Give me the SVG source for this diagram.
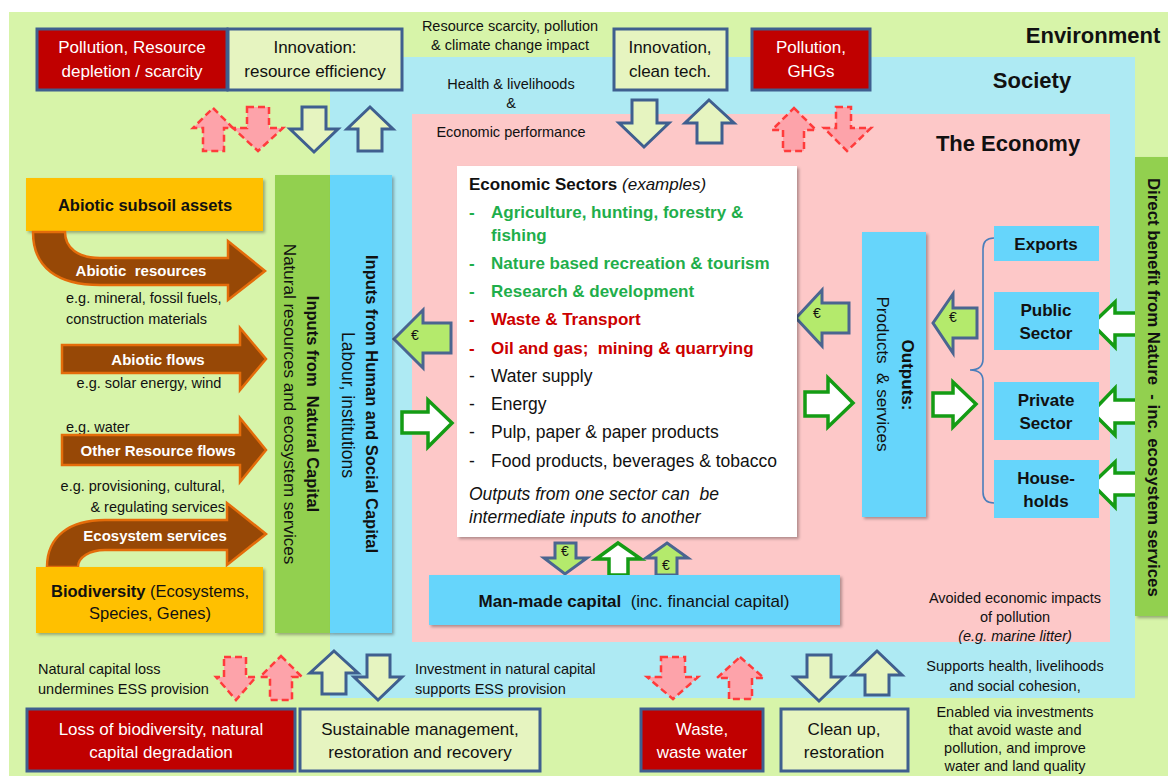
<svg xmlns="http://www.w3.org/2000/svg" width="1168" height="776" viewBox="0 0 1168 776">
<defs>
<style>
text{font-family:"Liberation Sans",Arial,sans-serif;dominant-baseline:central;fill:#111}
.c{text-anchor:middle}
.b{font-weight:bold}
.i{font-style:italic}
.s{font-size:14.5px}
.m{font-size:17px}
.n{font-size:17.5px}
.L{font-size:22px;font-weight:bold}
.w{fill:#fff}
.g{fill:#1fae4b}
.r{fill:#cc0000}
.boxr{fill:#c00000;stroke:#3f5f8f;stroke-width:3}
.boxp{fill:#e6f4c0;stroke:#3f5f8f;stroke-width:3}
.ao{fill:#e6f4c0;stroke:#3f5f8f;stroke-width:3;stroke-linejoin:miter}
.ar{fill:#fda3aa;stroke:#ff3b3b;stroke-width:2.5;stroke-dasharray:7 4}
.ae{fill:#b4ea6c;stroke:#4a6590;stroke-width:3}
.aw{fill:#fff;stroke:#149c14;stroke-width:3.5}
.br{fill:#974806;stroke:#e46c0a;stroke-width:2.5}
.or{fill:#ffc000}
.bl{fill:#66d5fb}
.gr{fill:#92d050}
.eu{font-size:14px}
</style>
<filter id="sh" x="-10%" y="-10%" width="130%" height="130%">
<feDropShadow dx="2" dy="2" stdDeviation="1.5" flood-color="#000" flood-opacity="0.3"/>
</filter>
</defs>

<g id="environment">
<rect x="9" y="12" width="1159" height="764" fill="#d7f4a9"/>
<text x="1093" y="35" class="c L">Environment</text>
</g>
<g id="society">
<rect x="330" y="57" width="805" height="641" fill="#aeeaf3"/>
<text x="1032" y="80" class="c L">Society</text>
</g>
<g id="economy">
<rect x="412" y="114" width="698" height="528" fill="#fdc8c8"/>
<text x="1008" y="143" class="c L">The Economy</text>
</g>

<g id="top-texts">
<text x="510" y="26" class="c s">Resource scarcity, pollution</text>
<text x="510" y="45" class="c s">&amp; climate change impact</text>
<text x="511" y="84" class="c s">Health &amp; livelihoods</text>
<text x="511" y="103" class="c s">&amp;</text>
<text x="511" y="132" class="c s">Economic performance</text>
</g>

<g id="box-pollution-resource">
<rect x="37" y="29" width="190" height="61" class="boxr"/>
<text x="132" y="47" class="c m w">Pollution, Resource</text>
<text x="132" y="71" class="c m w">depletion / scarcity</text>
</g>
<g id="box-innovation-efficiency">
<rect x="228" y="29" width="174" height="61" class="boxp"/>
<text x="315" y="47" class="c m">Innovation:</text>
<text x="315" y="71" class="c m">resource efficiency</text>
</g>
<g id="box-innovation-clean">
<rect x="614" y="29" width="113" height="61" class="boxp"/>
<text x="670" y="47" class="c m">Innovation,</text>
<text x="670" y="71" class="c m">clean tech.</text>
</g>
<g id="box-pollution-ghg">
<rect x="752" y="29" width="118" height="61" class="boxr"/>
<text x="811" y="47" class="c m w">Pollution,</text>
<text x="811" y="71" class="c m w">GHGs</text>
</g>

<g id="connectors">
<!-- top left -->
<polygon class="ar" points="213,108 233,128 224,128 224,151 203,151 203,128 193,128"/>
<polygon class="ar" points="247,107 269,107 269,128 283,128 258,151 233,128 247,128"/>
<polygon class="ao" points="302,107 326,107 326,129 338,129 314,152 290,129 302,129"/>
<polygon class="ao" points="370,107 393,129 382,129 382,151 358,151 358,129 347,129"/>
<!-- top right -->
<polygon class="ao" points="632,100 657,100 657,123 669,123 644,147 619,123 632,123"/>
<polygon class="ao" points="709,100 734,123 722,123 722,143 697,143 697,123 685,123"/>
<polygon class="ar" points="794,108 816,130 804,130 804,151 783,151 783,130 772,130"/>
<polygon class="ar" points="836,107 851,107 851,128 871,128 847,151 824,128 836,128"/>
<!-- bottom left -->
<polygon class="ar" points="224,657 246,657 246,677 256,677 236,700 216,677 224,677"/>
<polygon class="ar" points="281,656 302,677 292,677 292,700 270,700 270,677 260,677"/>
<polygon class="ao" points="334,651 358,673 346,673 346,694 322,694 322,673 310,673"/>
<polygon class="ao" points="367,655 390,655 390,677 402,677 378,700 354,677 367,677"/>
<!-- bottom right -->
<polygon class="ar" points="661,657 685,657 685,677 698,677 673,699 647,677 661,677"/>
<polygon class="ar" points="740,657 764,678 752,678 752,699 729,699 729,678 717,678"/>
<polygon class="ao" points="807,655 831,655 831,677 844,677 819,701 794,677 807,677"/>
<polygon class="ao" points="877,651 902,675 889,675 889,695 865,695 865,675 852,675"/>
<!-- around economic sectors -->
<polygon class="ae" points="394,339 423,310 423,323 451,323 451,353 423,353 423,368"/>
<text x="415" y="335" class="c eu">€</text>
<polygon class="aw" points="402,412 428,412 428,400 452,423 428,447 428,433 402,433"/>
<polygon class="ae" points="796,318 822,290 822,303 849,303 849,333 822,333 822,346"/>
<text x="817" y="313" class="c eu">€</text>
<polygon class="aw" points="805,392 828,392 828,378 853,403 828,427 828,416 805,416"/>
<polygon class="ae" points="933,323 953,294 953,308 977,308 977,338 953,338 953,353"/>
<text x="953" y="317" class="c eu">€</text>
<polygon class="aw" points="933,393 953,393 953,382 976,404 953,427 953,416 933,416"/>
<!-- benefits from nature -->
<polygon class="aw" points="1092,324 1115,302 1115,313 1138,313 1138,335 1115,335 1115,347"/>
<polygon class="aw" points="1092,412 1115,388 1115,400 1138,400 1138,423 1115,423 1115,435"/>
<polygon class="aw" points="1092,484 1115,462 1115,473 1138,473 1138,495 1115,495 1115,507"/>
<!-- man-made capital arrows -->
<polygon class="ae" points="555,543 576,543 576,558 587,558 565,574 544,558 555,558"/>
<text x="565" y="551" class="c eu">€</text>
<polygon class="aw" points="618,543 641,559 628,559 628,575 609,575 609,559 596,559"/>
<polygon class="ae" points="667,543 688,558 677,558 677,575 656,575 656,558 646,558"/>
<text x="666" y="565" class="c eu">€</text>
<!-- brace -->
<path d="M994,238 Q983,238 983,249 L983,359 Q983,370 970,370 Q983,370 983,381 L983,492 Q983,503 994,503" fill="none" stroke="#4a7ebb" stroke-width="1.6"/>
</g>

<g id="abiotic-subsoil-assets">
<rect x="26" y="178" width="237" height="53" class="or" filter="url(#sh)"/>
<text x="145" y="205" class="c b" font-size="16.5">Abiotic subsoil assets</text>
</g>
<g id="abiotic-resources">
<path class="br" d="M33,232 C33,268 58,285 100,285 L228,285 L228,300 L265,271 L228,241 L228,258 L100,258 C78,258 65,248 65,232 Z"/>
<text x="141" y="270" class="c b w" font-size="15" xml:space="preserve">Abiotic  resources</text>
<text x="66" y="298" class="s">e.g. mineral, fossil fuels,</text>
<text x="66" y="319" class="s">construction materials</text>
</g>
<g id="abiotic-flows">
<polygon class="br" points="62,345 240,345 240,328 266,359 240,390 240,373 62,373"/>
<text x="158" y="359" class="c b w" font-size="15">Abiotic flows</text>
<text x="149" y="383" class="c s">e.g. solar energy, wind</text>
</g>
<g id="other-resource-flows">
<text x="66" y="427" class="s">e.g. water</text>
<polygon class="br" points="62,435 240,435 240,418 266,450 240,482 240,465 62,465"/>
<text x="158" y="450" class="c b w" font-size="15">Other Resource flows</text>
<text x="225" y="486" class="s" text-anchor="end">e.g. provisioning, cultural,</text>
<text x="225" y="507" class="s" text-anchor="end">&amp; regulating services</text>
</g>
<g id="ecosystem-services">
<path class="br" d="M47,567 C47,536 70,520 105,520 L227,520 L227,503 L266,534 L227,565 L227,550 L105,550 C90,550 78,557 78,567 Z"/>
<text x="155" y="535" class="c b w" font-size="15">Ecosystem services</text>
</g>
<g id="biodiversity">
<rect x="36" y="567" width="227" height="66" class="or" filter="url(#sh)"/>
<text x="150" y="591" class="c" font-size="16.5"><tspan class="b">Biodiversity</tspan> (Ecosystems,</text>
<text x="150" y="613" class="c" font-size="16.5">Species, Genes)</text>
</g>

<g id="inputs-natural-capital">
<rect x="275" y="175" width="55" height="458" class="gr" filter="url(#sh)"/>
<text transform="translate(313,404) rotate(90)" class="c b" font-size="16.5" xml:space="preserve">Inputs from  Natural Capital</text>
<text transform="translate(289,404) rotate(90)" class="c m">Natural resources and ecosystem services</text>
</g>
<g id="inputs-human-social-capital">
<rect x="330" y="175" width="62" height="458" class="bl" filter="url(#sh)"/>
<text transform="translate(372,404) rotate(90)" class="c b" font-size="16.5">Inputs from Human and Social Capital</text>
<text transform="translate(348,405) rotate(90)" class="c n">Labour, institutions</text>
</g>

<g id="economic-sectors">
<rect x="457" y="166" width="340" height="371" fill="#fff" filter="url(#sh)"/>
<text x="469" y="184" class="m"><tspan class="b">Economic Sectors</tspan><tspan class="i"> (examples)</tspan></text>
<g class="m b">
<text x="469" y="212" class="g">-</text><text x="491" y="212" class="g">Agriculture, hunting, forestry &amp;</text>
<text x="491" y="235" class="g">fishing</text>
<text x="469" y="263" class="g">-</text><text x="491" y="263" class="g">Nature based recreation &amp; tourism</text>
<text x="469" y="291" class="g">-</text><text x="491" y="291" class="g">Research &amp; development</text>
<text x="469" y="319" class="r">-</text><text x="491" y="319" class="r">Waste &amp; Transport</text>
<text x="469" y="348" class="r">-</text><text x="491" y="348" class="r" xml:space="preserve">Oil and gas;  mining &amp; quarrying</text>
</g>
<g class="n">
<text x="469" y="376">-</text><text x="491" y="376">Water supply</text>
<text x="469" y="404">-</text><text x="491" y="404">Energy</text>
<text x="469" y="432">-</text><text x="491" y="432">Pulp, paper &amp; paper products</text>
<text x="469" y="461">-</text><text x="491" y="461">Food products, beverages &amp; tobacco</text>
<text x="469" y="494" class="i" xml:space="preserve">Outputs from one sector can  be</text>
<text x="469" y="517" class="i">intermediate inputs to another</text>
</g>
</g>

<g id="man-made-capital">
<rect x="429" y="575" width="411" height="50" class="bl" filter="url(#sh)"/>
<text x="634" y="601" class="c m" xml:space="preserve"><tspan class="b">Man-made capital</tspan>  (inc. financial capital)</text>
</g>

<g id="outputs">
<rect x="862" y="232" width="64" height="285" class="bl" filter="url(#sh)"/>
<text transform="translate(907,375) rotate(90)" class="c m b">Outputs:</text>
<text transform="translate(882,374) rotate(90)" class="c m" xml:space="preserve">Products  &amp; services</text>
</g>

<g id="exports"><rect x="994" y="226" width="105" height="35" class="bl"/><text x="1046" y="244" class="c m b">Exports</text></g>
<g id="public-sector"><rect x="994" y="292" width="105" height="58" class="bl"/><text x="1046" y="310" class="c m b">Public</text><text x="1046" y="333" class="c m b">Sector</text></g>
<g id="private-sector"><rect x="994" y="382" width="105" height="58" class="bl"/><text x="1046" y="400" class="c m b">Private</text><text x="1046" y="423" class="c m b">Sector</text></g>
<g id="households"><rect x="994" y="460" width="105" height="58" class="bl"/><text x="1046" y="478" class="c m b">House-</text><text x="1046" y="501" class="c m b">holds</text></g>

<g id="direct-benefit">
<rect x="1135" y="157" width="33" height="459" class="gr" filter="url(#sh)"/>
<text transform="translate(1153,178) rotate(90)" class="b" font-size="16.8" xml:space="preserve">Direct benefit from Nature  - inc. ecosystem services</text>
</g>

<g id="bottom-texts">
<text x="1015" y="598" class="c s">Avoided economic impacts</text>
<text x="1015" y="617" class="c s">of pollution</text>
<text x="1015" y="636" class="c s i">(e.g. marine litter)</text>
<text x="38" y="669" class="s">Natural capital loss</text>
<text x="38" y="689" class="s">undermines ESS provision</text>
<text x="415" y="669" class="s">Investment in natural capital</text>
<text x="415" y="689" class="s">supports ESS provision</text>
<text x="1015" y="666" class="c s">Supports health, livelihoods</text>
<text x="1015" y="686" class="c s">and social cohesion,</text>
<text x="1015" y="712" class="c s">Enabled via investments</text>
<text x="1015" y="730" class="c s">that avoid waste and</text>
<text x="1015" y="748" class="c s">pollution, and improve</text>
<text x="1015" y="766" class="c s">water and land quality</text>
</g>

<g id="box-loss-biodiversity">
<rect x="27" y="709" width="268" height="62" class="boxr"/>
<text x="161" y="729" class="c m w">Loss of biodiversity, natural</text>
<text x="161" y="752" class="c m w">capital degradation</text>
</g>
<g id="box-sustainable-management">
<rect x="300" y="709" width="240" height="62" class="boxp"/>
<text x="420" y="729" class="c m">Sustainable management,</text>
<text x="420" y="752" class="c m">restoration and recovery</text>
</g>
<g id="box-waste">
<rect x="641" y="709" width="122" height="62" class="boxr"/>
<text x="702" y="729" class="c m w">Waste,</text>
<text x="702" y="752" class="c m w">waste water</text>
</g>
<g id="box-clean-up">
<rect x="781" y="709" width="127" height="62" class="boxp"/>
<text x="844" y="729" class="c m">Clean up,</text>
<text x="844" y="752" class="c m">restoration</text>
</g>
</svg>
